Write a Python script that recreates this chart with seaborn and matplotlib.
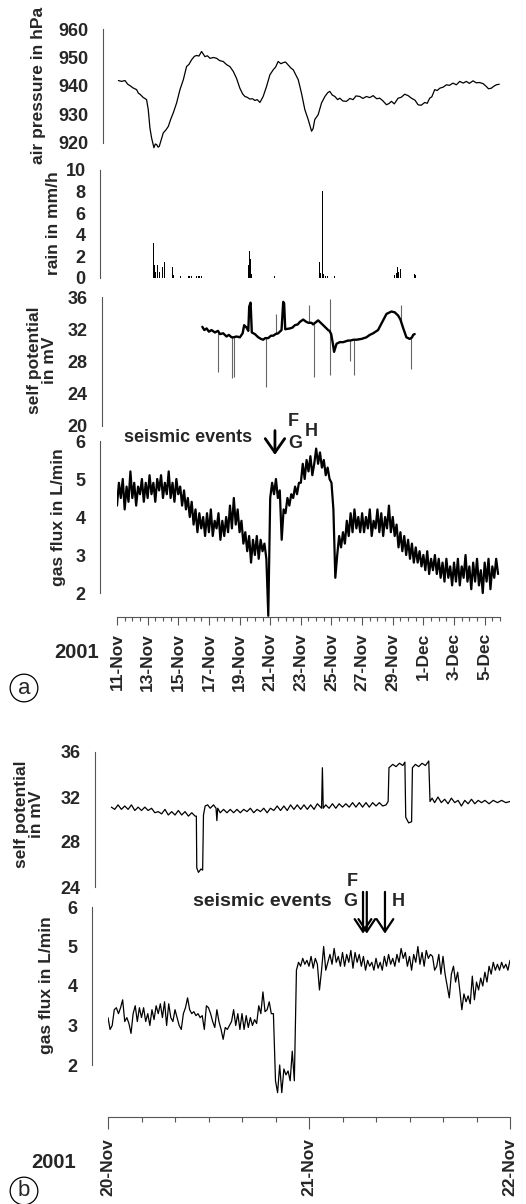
import numpy as np
import matplotlib
matplotlib.use('Agg')
import matplotlib.pyplot as plt
import seaborn as sns

sns.set_style('white')
plt.rcParams['font.family'] = ['Liberation Sans', 'DejaVu Sans']
plt.rcParams['font.weight'] = 'bold'

W, H = 526, 1204
AX_COLOR = '#555555'

# ---------------- panel (a): x in days after 11-Nov-2001 00:00
date_ticks_a = [0, 2, 4, 6, 8, 10, 12, 14, 16, 18, 20, 22, 24]
date_labels_a = ['11-Nov', '13-Nov', '15-Nov', '17-Nov', '19-Nov', '21-Nov', '23-Nov',
                 '25-Nov', '27-Nov', '29-Nov', '1-Dec', '3-Dec', '5-Dec']

pressure_days = [0.09, 0.3, 0.52, 0.7, 0.85, 1.05, 1.28, 1.4, 1.5, 1.7, 1.93, 2.04, 2.15,
                 2.26, 2.41, 2.5, 2.59, 2.68, 2.76, 3.02, 3.2, 3.35, 3.5, 3.67, 3.89, 4.11,
                 4.33, 4.54, 4.7, 4.87, 5.05, 5.2, 5.35, 5.52, 5.74, 5.9, 6.07, 6.3, 6.5,
                 6.7, 6.93, 7.15, 7.37, 7.59, 7.8, 8.02, 8.2, 8.35, 8.5, 8.67, 8.85, 9.0,
                 9.15, 9.33, 9.54, 9.76, 9.98, 10.2, 10.35, 10.52, 10.7, 10.85, 11.0, 11.17,
                 11.35, 11.5, 11.83, 12.04, 12.26, 12.48, 12.7, 12.8, 12.91, 13.13, 13.35,
                 13.57, 13.75, 13.89, 14.05, 14.22, 14.4, 14.54, 14.75, 14.98, 15.2, 15.41,
                 15.6, 15.85, 16.05, 16.28, 16.5, 16.72, 16.95, 17.15, 17.35, 17.59, 17.75,
                 17.91, 18.1, 18.35, 18.55, 18.78, 19.0, 19.22, 19.45, 19.65, 19.85, 20.09,
                 20.25, 20.41, 20.55, 20.74, 20.9, 21.07, 21.3, 21.5, 21.7, 21.93, 22.15,
                 22.37, 22.6, 22.8, 23.0, 23.24, 23.45, 23.67, 23.9, 24.11, 24.25, 24.43,
                 24.6, 24.76, 24.95]
pressure_hpa = [941.9, 941.6, 941.9, 940.6, 940.1, 939.3, 938.7, 937.4, 937.1, 936.0, 935.2,
                931.7, 925.2, 921.7, 918.3, 919.6, 919.4, 918.5, 918.8, 923.5, 924.6, 925.8,
                928.2, 930.5, 934.0, 938.7, 942.2, 946.8, 947.6, 949.2, 950.4, 950.7, 950.5,
                952.1, 950.3, 950.6, 949.7, 950.0, 949.7, 948.9, 948.6, 947.5, 946.8, 945.1,
                942.7, 939.2, 937.2, 936.3, 936.0, 935.4, 935.5, 934.9, 935.2, 934.2, 936.3,
                939.8, 943.9, 945.7, 946.6, 948.6, 947.8, 948.2, 948.4, 947.4, 946.3, 945.7,
                942.2, 937.5, 931.7, 928.2, 924.1, 925.0, 928.2, 929.9, 934.0, 936.3, 937.6,
                938.1, 936.8, 936.3, 935.2, 935.7, 934.7, 934.6, 935.6, 935.2, 936.5, 936.3,
                935.6, 936.3, 935.9, 936.6, 935.5, 935.7, 934.8, 933.4, 933.8, 934.6, 933.7,
                935.7, 936.0, 937.1, 936.6, 935.7, 935.0, 933.4, 933.2, 934.2, 933.9, 935.7,
                936.2, 938.7, 938.4, 939.2, 939.6, 940.4, 940.2, 941.0, 940.4, 941.6, 941.0,
                941.6, 940.9, 941.8, 941.1, 941.2, 940.8, 939.8, 939.0, 939.2, 939.9, 940.4,
                940.6]

rain_days = [2.37, 2.43, 2.52, 2.65, 2.76, 2.87, 2.98, 3.07, 3.13, 3.2, 3.61, 3.67, 4.11,
             4.17, 4.65, 4.76, 4.87, 5.2, 5.3, 5.41, 5.52, 8.57, 8.65, 8.72, 8.78, 10.3,
             13.2, 13.28, 13.41, 13.5, 13.63, 13.74, 14.22, 18.13, 18.24, 18.3, 18.39, 18.5,
             18.93, 19.43, 19.48]
rain_mm = [3.2, 1.2, 0.6, 1.2, 0.6, 0.4, 1.0, 3.0, 1.5, 0.5, 1.0, 0.3, 0.6, 0.2, 0.2,
           0.2, 0.2, 0.2, 0.2, 0.2, 0.2, 1.2, 2.5, 1.8, 0.4, 0.15, 1.5, 0.5, 8.1, 0.4, 0.2,
           0.2, 0.15, 0.3, 0.5, 1.0, 0.6, 0.8, 0.15, 0.4, 0.3]

# self potential: continuous trace and single-sample spikes
sp_a_days = [5.57, 5.7, 5.85, 6.0, 6.17, 6.39, 6.59, 6.72, 6.93, 7.15, 7.3, 7.48, 7.6,
             7.8, 8.02, 8.2, 8.3, 8.46, 8.57, 8.63, 8.72, 8.8, 9.0, 9.22, 9.4, 9.54, 9.67,
             9.87, 10.05, 10.2, 10.35, 10.52, 10.74, 10.85, 10.91, 10.98, 11.28, 11.45,
             11.61, 11.8, 11.93, 12.15, 12.37, 12.5, 12.7, 12.8, 13.13, 13.35, 13.57, 13.78,
             13.87, 13.98, 14.11, 14.17, 14.33, 14.54, 14.76, 15.09, 15.24, 15.43, 15.63,
             15.96, 16.28, 16.5, 16.72, 17.04, 17.37, 17.59, 17.91, 18.13, 18.35, 18.5,
             18.67, 18.89, 19.11, 19.26, 19.33, 19.43]
sp_a_mv = [32.3, 31.9, 32.1, 31.7, 31.9, 31.6, 31.8, 31.4, 31.5, 31.1, 31.3, 31.0, 31.0,
           31.1, 31.0, 31.5, 32.5, 32.2, 31.8, 34.8, 35.3, 31.6, 31.4, 31.0, 30.8, 30.7,
           30.9, 30.9, 31.2, 31.2, 31.4, 31.5, 31.9, 35.4, 35.2, 32.0, 32.1, 32.2, 32.5,
           32.6, 32.9, 33.2, 32.9, 32.8, 32.8, 32.6, 33.1, 32.7, 32.3, 31.9, 31.8, 31.4,
           30.0, 29.2, 30.2, 30.4, 30.4, 30.6, 30.6, 30.7, 30.7, 30.8, 31.0, 31.3, 31.5,
           31.9, 33.1, 33.9, 34.2, 34.1, 33.7, 33.2, 32.2, 31.0, 30.8, 31.0, 31.3, 31.4]
sp_a_spike_days = [6.61, 7.52, 7.65, 9.7, 10.37, 12.52, 12.83, 13.89, 13.93, 15.2, 15.46,
                   18.52, 19.22]
sp_a_spike_mv = [26.7, 25.9, 26.1, 24.8, 33.9, 35.0, 26.1, 35.8, 26.3, 28.1, 26.3, 35.0,
                 27.1]

# gas flux, one reading every 3 hours (8 per day)
gas_a_flux = [
    4.3, 4.9, 4.5, 5.0, 4.2, 4.8, 4.4, 5.2,
    4.5, 4.9, 4.3, 4.8, 4.6, 5.0, 4.4, 4.9,
    4.5, 5.1, 4.6, 4.9, 4.4, 5.0, 4.7, 5.1,
    4.5, 4.9, 4.6, 5.2, 4.5, 4.9, 4.4, 5.0,
    4.6, 4.8, 4.3, 4.7, 4.2, 4.5, 4.0, 4.4,
    3.8, 4.2, 3.6, 4.1, 3.7, 4.0, 3.5, 4.1,
    3.6, 4.2, 3.5, 3.9, 3.7, 4.1, 3.4, 3.9,
    3.5, 4.0, 3.6, 4.3, 3.7, 4.5, 3.8, 4.2,
    3.6, 3.9, 3.3, 3.6, 3.1, 3.5, 2.8, 3.4,
    3.0, 3.5, 2.9, 3.4, 3.1, 3.3, 2.9, 1.4,
    4.5, 4.9, 4.6, 5.0, 4.5, 4.7, 3.4, 4.2,
    4.1, 4.5, 4.3, 4.6, 4.5, 4.8, 4.6, 4.9,
    4.9, 5.4, 5.0, 5.5, 5.2, 5.6, 5.1, 5.4,
    5.8, 5.4, 5.7, 5.3, 5.5, 5.1, 5.3, 5.0,
    4.9, 4.2, 2.4, 3.0, 3.5, 3.2, 3.6, 3.3,
    3.9, 3.5, 4.1, 3.6, 4.2, 3.7, 4.0, 3.6,
    4.1, 3.6, 4.0, 3.7, 4.2, 3.5, 3.9, 3.7,
    4.2, 3.6, 4.1, 3.5, 4.0, 3.7, 4.3, 3.6,
    4.0, 3.5, 3.8, 3.2, 3.6, 3.1, 3.5, 3.0,
    3.4, 2.9, 3.3, 2.8, 3.2, 2.8, 3.1, 2.7,
    3.0, 2.6, 3.1, 2.5, 2.9, 2.6, 3.0, 2.5,
    2.9, 2.4, 2.8, 2.3, 2.9, 2.4, 2.7, 2.2,
    2.8, 2.3, 2.9, 2.2, 2.7, 2.4, 3.0, 2.3,
    2.7, 2.1, 2.8, 2.3, 2.9, 2.2, 2.6, 2.0,
    2.8, 2.3, 2.9, 2.1, 2.7, 2.4, 2.9, 2.5,
]
gas_a_days = np.arange(len(gas_a_flux)) * 0.125
events_a_day = [10.31]

# ---------------- panel (b): x in hours after 20-Nov-2001 00:00
date_ticks_b = [0, 24, 48]
date_labels_b = ['20-Nov', '21-Nov', '22-Nov']

sp_b_hours = [0.4, 0.8, 1.2, 1.6, 2.0, 2.4, 2.8, 3.2, 3.6, 4.0, 4.4, 4.8, 5.2, 5.6, 6.0,
              6.4, 6.8, 7.2, 7.6, 8.0, 8.4, 8.8, 9.2, 9.6, 10.0, 10.4, 10.55, 10.6, 10.8,
              11.1, 11.3, 11.4, 11.6, 11.9, 12.2, 12.6, 12.9, 13.0, 13.1, 13.4, 13.8, 14.2,
              14.6, 15.0, 15.4, 15.8, 16.2, 16.6, 17.0, 17.4, 17.8, 18.2, 18.6, 19.0, 19.4,
              19.8, 20.2, 20.6, 21.0, 21.4, 21.8, 22.2, 22.6, 23.0, 23.4, 23.8, 24.2, 24.6,
              25.0, 25.5, 25.6, 25.7, 26.0, 26.4, 26.8, 27.2, 27.6, 28.0, 28.4, 28.8, 29.2,
              29.6, 30.0, 30.4, 30.8, 31.2, 31.6, 32.0, 32.4, 32.8, 33.2, 33.45, 33.55, 34.0,
              34.4, 34.8, 35.2, 35.45, 35.55, 35.9, 36.25, 36.35, 36.7, 37.1, 37.5, 37.9,
              38.3, 38.45, 38.7, 39.0, 39.4, 39.8, 40.2, 40.6, 41.0, 41.4, 41.8, 42.2, 42.6,
              43.0, 43.4, 43.8, 44.2, 44.6, 45.0, 45.5, 46.0, 46.5, 47.0, 47.5, 48.0]
sp_b_mv = [31.1, 30.9, 31.3, 30.9, 31.2, 30.9, 31.3, 30.8, 31.1, 30.8, 31.1, 30.8, 31.0,
           30.6, 30.7, 30.5, 30.9, 30.4, 30.7, 30.4, 30.8, 30.4, 30.7, 30.3, 30.6, 30.3,
           30.3, 25.7, 25.3, 25.6, 25.5, 30.4, 31.2, 31.3, 31.0, 31.3, 31.0, 29.9, 31.0,
           30.6, 30.9, 30.6, 30.9, 30.6, 30.9, 30.6, 30.9, 30.7, 31.0, 30.6, 30.9, 30.7,
           31.0, 30.6, 31.0, 30.8, 31.2, 30.8, 31.2, 30.8, 31.3, 30.9, 31.3, 30.9, 31.3,
           30.9, 31.3, 30.9, 31.4, 31.0, 34.6, 31.0, 31.3, 31.0, 31.4, 31.0, 31.4, 31.1,
           31.4, 31.1, 31.5, 31.1, 31.5, 31.1, 31.5, 31.1, 31.5, 31.2, 31.5, 31.2, 31.3,
           31.6, 34.6, 34.9, 34.7, 35.0, 34.8, 35.1, 30.2, 29.7, 29.8, 34.6, 34.9, 34.7,
           35.0, 34.8, 35.2, 31.6, 31.9, 31.5, 32.0, 31.5, 31.8, 31.4, 31.9, 31.5, 31.7,
           31.2, 31.7, 31.4, 31.8, 31.4, 31.7, 31.5, 31.7, 31.4, 31.7, 31.5, 31.7, 31.5,
           31.6]

# gas flux, one reading every 15 minutes
gas_b_flux = [
    3.2, 2.9, 3.0, 3.4, 3.45, 3.3, 3.45, 3.65,
    3.1, 3.2, 3.05, 2.8, 3.3, 3.5, 3.1, 3.45,
    3.2, 3.45, 3.1, 3.3, 3.0, 3.4, 3.15, 3.5,
    3.3, 3.55, 3.2, 3.6, 3.0, 3.55, 3.2, 3.1,
    3.4, 3.2, 3.0, 2.9, 3.3, 3.45, 3.7, 3.4,
    3.3, 3.35, 3.25, 3.3, 3.2, 3.25, 2.9, 3.5,
    3.45, 3.3, 3.1, 2.95, 3.4, 3.1, 2.9, 2.65,
    2.95, 2.9, 3.0, 3.1, 3.4, 3.0, 3.3, 2.9,
    3.3, 2.9, 3.25, 2.95, 3.2, 3.0, 3.15, 3.05,
    3.5, 3.3, 3.85, 3.35, 3.4, 3.6, 3.3, 3.3,
    1.6, 1.3, 2.0, 1.3, 1.9, 1.75, 1.85, 1.6,
    2.35, 1.6, 4.4, 4.6, 4.5, 4.7, 4.55, 4.65,
    4.5, 4.75, 4.45, 4.7, 4.55, 3.9, 4.4, 5.0,
    4.4, 4.6, 4.8, 4.55, 4.95, 4.6, 4.75, 4.5,
    4.85, 4.5, 4.8, 4.6, 4.9, 4.45, 4.85, 4.6,
    4.8, 4.5, 4.75, 4.4, 4.65, 4.5, 4.6, 4.4,
    4.7, 4.45, 4.6, 4.4, 4.75, 4.5, 4.8, 4.55,
    4.7, 4.5, 4.8, 4.6, 4.95, 4.7, 4.85, 4.5,
    4.75, 4.4, 4.8, 4.6, 5.0, 4.55, 4.85, 4.5,
    4.9, 4.7, 4.8, 4.75, 4.4, 4.5, 4.8, 4.3,
    4.75, 4.3, 4.0, 3.7, 4.3, 4.5, 4.1, 4.35,
    3.9, 3.4, 3.8, 3.6, 3.75, 3.55, 4.25, 3.65,
    4.1, 3.9, 4.2, 4.0, 4.35, 4.1, 4.5, 4.3,
    4.6, 4.4, 4.55, 4.4, 4.6, 4.45, 4.55, 4.4,
    4.65,
]
gas_b_hours = np.arange(len(gas_b_flux)) * 0.25
events_b_hours = [30.45, 30.9, 33.07]


def px_axes(fig, x0, y0, x1, y1):
    ax = fig.add_axes([x0 / W, 1 - y1 / H, (x1 - x0) / W, (y1 - y0) / H])
    ax.patch.set_alpha(0)
    return ax


def style_left(ax, ticks, minor, offset):
    for s in ['top', 'right', 'bottom']:
        ax.spines[s].set_visible(False)
    ax.spines['left'].set_position(('outward', offset))
    ax.spines['left'].set_bounds(ticks[0], ticks[-1])
    ax.spines['left'].set_color(AX_COLOR)
    ax.spines['left'].set_linewidth(0.8)
    ax.set_yticks(ticks)
    ax.set_yticks(minor, minor=True)
    ax.tick_params(axis='y', which='major', length=8.5, width=0.8, color=AX_COLOR,
                   pad=2, labelsize=13)
    ax.tick_params(axis='y', which='minor', length=3, width=0.8, color=AX_COLOR)
    ax.tick_params(axis='x', which='both', bottom=False, labelbottom=False)
    ax.set_xlabel('')
    ax.set_ylabel('')


def style_bottom(ax, ticks, labels, minor, xmax, major_len, minor_len, pad):
    ax.spines['bottom'].set_visible(True)
    ax.spines['bottom'].set_bounds(0, xmax)
    ax.spines['bottom'].set_color(AX_COLOR)
    ax.spines['bottom'].set_linewidth(0.8)
    ax.set_xticks(ticks)
    ax.set_xticklabels(labels, rotation=90, fontsize=12.5, fontweight='bold')
    ax.set_xticks(minor, minor=True)
    ax.tick_params(axis='x', which='major', bottom=True, labelbottom=True, direction='out',
                   length=major_len, width=0.8, color=AX_COLOR, pad=pad)
    ax.tick_params(axis='x', which='minor', bottom=True, direction='out',
                   length=minor_len, width=0.8, color=AX_COLOR)


fig = plt.figure(figsize=(W / 100, H / 100), dpi=100)

# ---- (a) air pressure
ax = px_axes(fig, 117, 29, 500, 150)
sns.lineplot(x=pressure_days, y=pressure_hpa, ax=ax, color='k', lw=0.9,
             estimator=None, sort=False)
ax.set_xlim(0, 25)
ax.set_ylim(917.5, 960)
style_left(ax, [920, 930, 940, 950, 960], [925, 935, 945, 955], 10)

# ---- (a) rain
ax = px_axes(fig, 117, 170, 500, 278)
ax.bar(rain_days, rain_mm, width=0.06, color='k', linewidth=0)
ax.set_xlim(0, 25)
ax.set_ylim(0, 10)
style_left(ax, [0, 2, 4, 6, 8, 10], [1, 3, 5, 7, 9], 12)

# ---- (a) self potential
ax = px_axes(fig, 117, 297, 500, 426)
spike_base = np.interp(sp_a_spike_days, sp_a_days, sp_a_mv)
ax.vlines(sp_a_spike_days, spike_base, sp_a_spike_mv, color='0.4', lw=0.8)
sns.lineplot(x=sp_a_days, y=sp_a_mv, ax=ax, color='k', lw=1.7,
             estimator=None, sort=False)
ax.set_xlim(0, 25)
ax.set_ylim(20, 36)
style_left(ax, [20, 24, 28, 32, 36], [22, 26, 30, 34], 11)

# ---- (a) gas flux + time axis
ax_ga = px_axes(fig, 117, 441, 500, 617)
sns.lineplot(x=gas_a_days, y=gas_a_flux, ax=ax_ga, color='k', lw=1.6,
             estimator=None, sort=False)
ax_ga.set_xlim(0, 25)
ax_ga.set_ylim(2 - 24 / 38, 6)
style_left(ax_ga, [2, 3, 4, 5, 6], [2.5, 3.5, 4.5, 5.5], 12)
style_bottom(ax_ga, date_ticks_a, date_labels_a, np.arange(0, 25.01, 0.5), 25,
             5.5, 3, 6)

tr = ax_ga.get_xaxis_transform()
for d in events_a_day:
    ax_ga.annotate('', xy=(d, 0.905), xytext=(d, 1.075), xycoords=tr, textcoords=tr,
                   arrowprops=dict(arrowstyle='->,head_width=0.35,head_length=0.5',
                                   lw=2, color='k', mutation_scale=20))
fig.text(188 / W, 1 - 437 / H, 'seismic events', ha='center', va='center', fontsize=13)
fig.text(293 / W, 1 - 422 / H, 'F', ha='center', va='center', fontsize=13)
fig.text(295 / W, 1 - 443 / H, 'G', ha='center', va='center', fontsize=13)
fig.text(311 / W, 1 - 432 / H, 'H', ha='center', va='center', fontsize=13)

fig.text(39 / W, 1 - 85 / H, 'air pressure in hPa', rotation=90, ha='center',
         va='center', fontsize=12.5)
fig.text(53 / W, 1 - 223 / H, 'rain in mm/h', rotation=90, ha='center', va='center',
         fontsize=12.5)
fig.text(42 / W, 1 - 360 / H, 'self potential\nin mV', rotation=90, ha='center',
         va='center', fontsize=12.5, linespacing=1.0)
fig.text(58 / W, 1 - 517 / H, 'gas flux in L/min', rotation=90, ha='center',
         va='center', fontsize=12.5)
fig.text(77 / W, 1 - 652 / H, '2001', ha='center', va='center', fontsize=14.5)
fig.text(24 / W, 1 - 688 / H, 'a', ha='center', va='center', fontsize=16,
         fontweight='normal',
         bbox=dict(boxstyle='circle,pad=0.15', fc='none', ec='k', lw=0.9))

# ---- (b) self potential
ax = px_axes(fig, 108, 752, 510, 887)
sns.lineplot(x=sp_b_hours, y=sp_b_mv, ax=ax, color='k', lw=0.9,
             estimator=None, sort=False)
ax.set_xlim(0, 48)
ax.set_ylim(24, 36)
style_left(ax, [24, 28, 32, 36], [26, 30, 34], 9.5)

# ---- (b) gas flux + time axis
ax_gb = px_axes(fig, 108, 907, 510, 1117)
sns.lineplot(x=gas_b_hours, y=gas_b_flux, ax=ax_gb, color='k', lw=0.9,
             estimator=None, sort=False)
ax_gb.set_xlim(0, 48)
ax_gb.set_ylim(2 - 52 / 39.5, 6)
style_left(ax_gb, [2, 3, 4, 5, 6], [2.5, 3.5, 4.5, 5.5], 11.5)
style_bottom(ax_gb, date_ticks_b, date_labels_b, np.arange(0, 48.01, 4), 48,
             8.5, 3.6, 7)

tr = ax_gb.get_xaxis_transform()
for h in events_b_hours:
    ax_gb.annotate('', xy=(h, 0.86), xytext=(h, 1.085), xycoords=tr, textcoords=tr,
                   arrowprops=dict(arrowstyle='->,head_width=0.3,head_length=0.45',
                                   lw=1.6, color='k', mutation_scale=20))
fig.text(262 / W, 1 - 901 / H, 'seismic events', ha='center', va='center', fontsize=14)
fig.text(352 / W, 1 - 882 / H, 'F', ha='center', va='center', fontsize=13)
fig.text(350 / W, 1 - 901 / H, 'G', ha='center', va='center', fontsize=13)
fig.text(398 / W, 1 - 901 / H, 'H', ha='center', va='center', fontsize=13)

fig.text(29 / W, 1 - 814 / H, 'self potential\nin mV', rotation=90, ha='center',
         va='center', fontsize=12.5, linespacing=1.0)
fig.text(47 / W, 1 - 985 / H, 'gas flux in L/min', rotation=90, ha='center',
         va='center', fontsize=12.5)
fig.text(54 / W, 1 - 1162 / H, '2001', ha='center', va='center', fontsize=14.5)
fig.text(24 / W, 1 - 1191 / H, 'b', ha='center', va='center', fontsize=16,
         fontweight='normal',
         bbox=dict(boxstyle='circle,pad=0.15', fc='none', ec='k', lw=0.9))

fig.savefig('out.png', dpi=100, facecolor='white')
